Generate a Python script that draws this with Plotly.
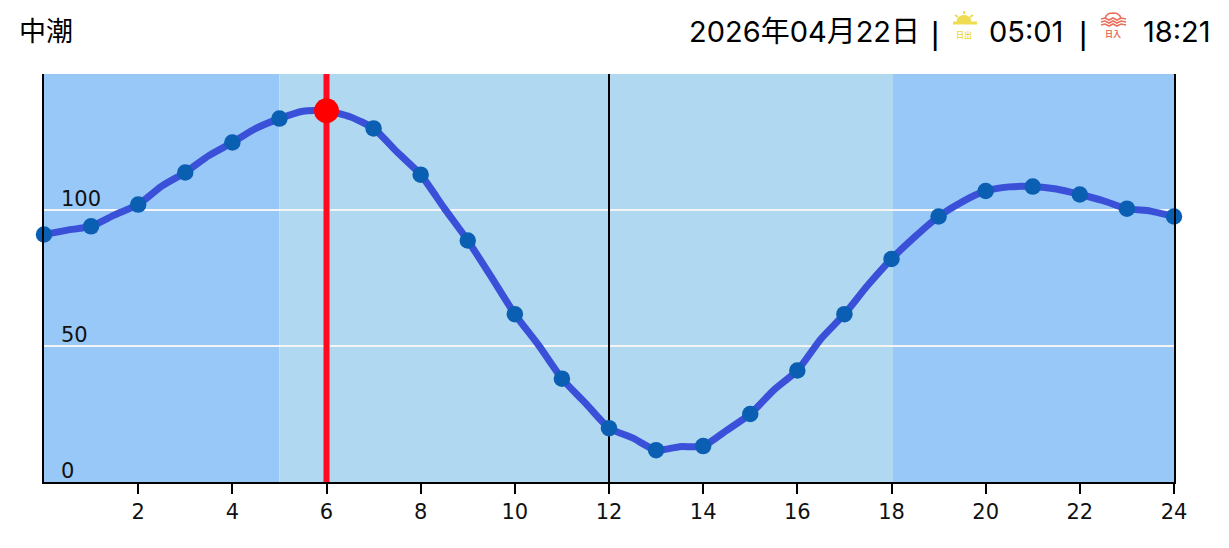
import plotly.graph_objects as go

WIDTH = 1229
HEIGHT = 548
LEFT, RIGHT, TOP, BOTTOM = 44, 55, 74, 66

hours = list(range(25))
tide = [91, 94, 102, 113.8, 124.8, 133.6, 136.5, 130, 113, 88.8, 61.7, 38, 19.8,
        11.7, 13.2, 25, 41, 61.7, 82, 97.6, 107, 108.6, 105.7, 100.5, 97.6]
half_hours = [h + 0.5 for h in range(24)]
tide_half = [92.6, 98.2, 108.8, 120, 130, 136.3, 134.3, 121.3, 100.7, 75.4, 50.4, 29,
             16.2, 13, 19, 33.8, 52.6, 72.4, 90.2, 103, 108.5, 107.7, 103.4, 99.6]
x_ticks = list(range(2, 25, 2))
y_ticks = [0, 50, 100, 150]
y_labels = [0, 50, 100]
black_lines = [12]
now_hour = 6
sunrise_hour = 5
sunset_hour = 18.03

tide_name = '中潮'
date_text = '2026年04月22日'
sunrise_text = '05:01'
sunset_text = '18:21'

TICK_FONT = dict(family='DejaVu Sans', size=21, color='#111111')
HEAD_FAMILY = 'Inter, Noto Sans CJK JP'
SUN_COLOR = '#efdc50'
SET_COLOR = '#e8705c'


def px(x):
    return (x - LEFT) / (WIDTH - LEFT - RIGHT)


def py(y):
    return 1 - (y - TOP) / (HEIGHT - TOP - BOTTOM)


def path(points, close=False):
    text = 'M ' + ' L '.join(f'{px(x):.5f},{py(y):.5f}' for x, y in points)
    return text + (' Z' if close else '')


def icon_line(points, color, width=1.6):
    return dict(type='path', xref='paper', yref='paper', path=path(points),
                line=dict(color=color, width=width), layer='above')


def head(text, x, anchor='left', size=29, y=32, color='black', family=HEAD_FAMILY):
    return dict(text=text, x=px(x), y=py(y), xref='paper', yref='paper',
                xanchor=anchor, yanchor='middle', showarrow=False,
                font=dict(family=family, size=size, color=color))


shapes = [
    dict(type='rect', x0=0, x1=sunrise_hour, y0=0, y1=150, fillcolor='#98c8f8',
         line_width=0, layer='below'),
    dict(type='rect', x0=sunrise_hour, x1=sunset_hour, y0=0, y1=150, fillcolor='#b0d8f0',
         line_width=0, layer='below'),
    dict(type='rect', x0=sunset_hour, x1=24, y0=0, y1=150, fillcolor='#98c8f8',
         line_width=0, layer='below'),
]
for hour in black_lines:
    shapes.append(dict(type='line', x0=hour, x1=hour, y0=0, y1=150,
                       line=dict(color='black', width=2), layer='between'))
shapes.append(dict(type='line', x0=now_hour, x1=now_hour, y0=0, y1=150,
                   line=dict(color='#ff0a1e', width=6), layer='between'))

# sunrise icon
shapes.append(dict(type='path', xref='paper', yref='paper', fillcolor=SUN_COLOR,
                   line=dict(color=SUN_COLOR, width=1), layer='above',
                   path=path([(957, 22), (958, 18), (961, 16), (964, 15.5), (967, 16),
                              (970, 18), (971, 22)], close=True)))
shapes.append(icon_line([(953, 23), (977, 23)], SUN_COLOR, 3))
shapes.append(icon_line([(964, 11), (964, 14)], SUN_COLOR, 2))
shapes.append(icon_line([(955, 15), (958, 17)], SUN_COLOR, 2))
shapes.append(icon_line([(973, 15), (970, 17)], SUN_COLOR, 2))

# sunset icon
shapes.append(icon_line([(1105, 19), (1106, 16), (1109, 13.5), (1113, 13), (1117, 13.5),
                         (1120, 16), (1121, 19)], SET_COLOR))
for wave_y in (19, 22, 25):
    shapes.append(icon_line([(1101, wave_y), (1105, wave_y - 1), (1109, wave_y + 1),
                             (1113, wave_y - 1), (1117, wave_y + 1), (1121, wave_y - 1),
                             (1126, wave_y)], SET_COLOR))

annotations = [
    head(tide_name, 17, family='Noto Sans CJK JP', size=27, y=30),
    head(date_text, 687),
    head('|', 935, anchor='center', size=32, y=33, family='Liberation Sans'),
    head(sunrise_text, 987),
    head('|', 1083, anchor='center', size=32, y=33, family='Liberation Sans'),
    head(sunset_text, 1177, anchor='center'),
    head('<b>日出</b>', 964, anchor='center', size=8, y=35, color=SUN_COLOR, family='Noto Sans CJK JP'),
    head('<b>日入</b>', 1113, anchor='center', size=8, y=34, color=SET_COLOR, family='Noto Sans CJK JP'),
]
for label in y_labels:
    annotations.append(dict(text=str(label), x=0, y=label, xanchor='left', yanchor='bottom',
                            xshift=15, yshift=-3, showarrow=False, font=TICK_FONT))

# the line also passes through half hour readings, markers only on the hour
line_pairs = sorted(list(zip(hours, tide)) + list(zip(half_hours, tide_half)))

fig = go.Figure()
fig.add_trace(go.Scatter(
    x=[p[0] for p in line_pairs], y=[p[1] for p in line_pairs],
    mode='lines', cliponaxis=False,
    line=dict(color='#3a50d8', width=7, shape='spline', smoothing=0.6),
    hoverinfo='skip',
))
fig.add_trace(go.Scatter(
    x=hours, y=tide, mode='markers', cliponaxis=False,
    marker=dict(color='#0b5fb3', size=16.5),
    hoverinfo='skip',
))
fig.add_trace(go.Scatter(
    x=[now_hour], y=[tide[now_hour]], mode='markers', cliponaxis=False,
    marker=dict(color='#ff0000', size=25),
    hoverinfo='skip',
))

fig.update_layout(
    width=WIDTH,
    height=HEIGHT,
    margin=dict(l=LEFT, r=RIGHT, t=TOP, b=BOTTOM),
    paper_bgcolor='white',
    plot_bgcolor='white',
    showlegend=False,
    shapes=shapes,
    annotations=annotations,
    xaxis=dict(
        range=(0, 24),
        tickmode='array',
        tickvals=x_ticks,
        ticks='outside',
        ticklen=10,
        tickwidth=2,
        tickcolor='black',
        tickfont=TICK_FONT,
        showgrid=False,
        zeroline=False,
        showline=True,
        linecolor='black',
        linewidth=2,
    ),
    yaxis=dict(
        range=(0, 150),
        tickmode='array',
        tickvals=y_ticks,
        showticklabels=False,
        ticks='',
        showgrid=True,
        gridcolor='#f4f4f4',
        gridwidth=2,
        zeroline=False,
        showline=True,
        linecolor='black',
        linewidth=2,
        mirror=True,
    ),
)

fig.write_html('out.html', config=dict(displayModeBar=False),
               post_script="document.body.style.margin='0';document.documentElement.style.overflow='hidden';")
